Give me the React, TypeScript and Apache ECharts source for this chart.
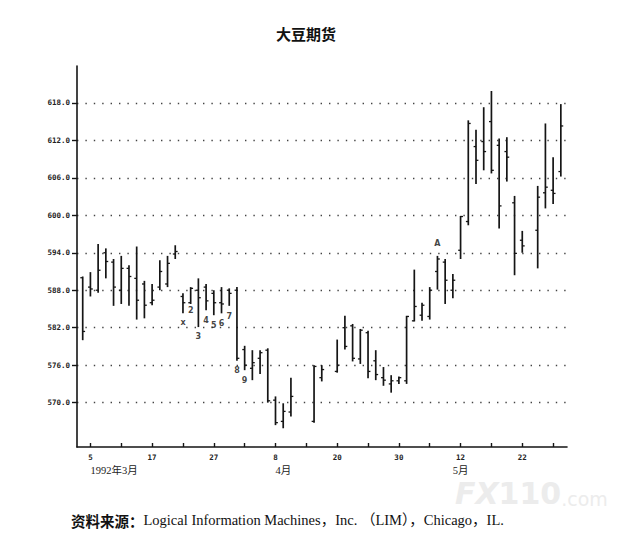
import React, { useEffect, useRef } from "react";
import * as echarts from "echarts";

// trading-day slot of each bar (gaps = no bar drawn)
const dayIndex = [
  0, 1, 2, 3, 4, 5, 6, 7, 8, 9, 10, 11, 12, 13, 14, 15, 16, 17, 18, 19, 20, 21, 22, 23, 24, 25, 26, 27,
  30, 31,
  33, 34, 35, 36, 37, 38, 39, 40, 41, 42, 43, 44, 45, 46, 47, 48, 49, 50, 51, 52, 53, 54, 55, 56, 57,
  59, 60, 61, 62,
];
const opens = [
  590.0, 588.5, 588.0, 594.0, 592.5, 588.0, 591.5, 589.9, 589.0, 586.0, 588.5, 589.0, 593.8, 587.0, 586.0,
  588.0, 588.5, 587.5, 586.0, 588.0, 588.0, 578.5, 575.5, 577.1, 578.4, 570.4, 567.0, 568.5,
  567.0, 574.0,
  575.0, 582.0, 582.3, 577.0, 581.2, 576.7, 574.0, 573.0, 573.5, 573.5, 583.1, 584.0, 583.8, 591.0, 592.5,
  588.0, 594.4, 599.0, 611.0, 611.8, 615.0, 611.2, 610.2, 602.0, 596.0,
  597.6, 603.6, 604.0, 607.0,
];
const highs = [
  590.2, 590.9, 595.4, 594.7, 593.0, 593.5, 592.0, 595.0, 589.5, 589.0, 592.8, 593.5, 595.2, 587.5, 588.5,
  589.9, 589.0, 588.0, 588.5, 588.3, 588.5, 579.1, 578.4, 578.4, 578.7, 571.0, 569.9, 574.0,
  576.0, 576.0,
  580.1, 583.9, 582.6, 581.8, 581.5, 578.4, 575.7, 574.4, 574.2, 583.9, 591.3, 586.0, 588.5, 593.5, 593.0,
  590.6, 599.9, 615.2, 613.7, 617.3, 619.9, 612.3, 612.5, 603.1, 597.5,
  604.7, 614.7, 609.3, 617.8,
];
const lows = [
  580.0, 587.0, 587.6, 589.9, 585.5, 585.8, 585.5, 583.3, 583.5, 585.6, 588.0, 588.5, 593.0, 584.3, 585.8,
  582.1, 584.8, 584.0, 584.3, 585.5, 576.7, 575.2, 573.6, 574.6, 570.0, 566.4, 565.9, 567.8,
  566.8, 573.4,
  574.8, 578.5, 576.6, 576.2, 573.9, 573.6, 572.7, 571.6, 573.0, 573.0, 583.0, 583.1, 583.3, 588.1, 585.8,
  586.7, 593.0, 598.4, 605.0, 607.2, 606.7, 597.9, 605.4, 590.4, 594.0,
  591.5, 601.1, 601.8, 606.2,
];
const closes = [
  581.4, 588.2, 591.2, 592.6, 588.5, 591.5, 590.2, 586.4, 585.6, 586.4, 591.0, 592.3, 594.2, 586.0, 588.3,
  586.8, 586.3, 586.0, 585.8, 587.5, 577.1, 576.0, 576.4, 578.0, 570.3, 566.8, 568.6, 571.0,
  575.8, 575.3,
  576.0, 579.0, 577.1, 581.6, 575.0, 574.5, 573.6, 573.5, 574.0, 583.8, 585.4, 585.6, 588.0, 593.0, 589.6,
  589.6, 599.8, 614.7, 608.8, 610.2, 607.2, 601.5, 609.3, 593.9, 595.1,
  602.9, 604.5, 603.5, 614.3,
];

const yTickValues = [570, 576, 582, 588, 594, 600, 606, 612, 618];
const xTickValues = [1, 5, 9, 13, 17, 21, 25, 29, 33, 37, 41, 45, 49, 53, 57, 61];
const xLabelAt = [1, 9, 17, 25, 33, 41, 49, 57];
const xLabels = ["5", "17", "27", "8", "20", "30", "12", "22"];
const monthAt = [1, 25, 48];
const monthLabels = ["1992年3月", "4月", "5月"];

const annotText = ["x", "2", "3", "4", "5", "6", "7", "8", "9", "A"];
const annotAt = [13, 14, 15, 16, 17, 18, 19, 20, 21, 46];
const annotPrice = [582.9, 584.7, 580.6, 583.1, 582.3, 582.7, 583.8, 575.1, 573.5, 595.5];

const X_MIN = -0.74;
const X_MAX = 62.8;

export default function App() {
  const ref = useRef<HTMLDivElement>(null);

  useEffect(() => {
    document.body.style.margin = "0";
    if (!ref.current) return;
    const chart = echarts.init(ref.current, undefined, { renderer: "svg" });

    const ohlc = dayIndex.map((d, i) => [d, opens[i], highs[i], lows[i], closes[i]]);
    const annots = annotText.map((t, i) => ({ value: [annotAt[i], annotPrice[i]], name: t }));

    const ink = "#151515";

    const option: any = {
      animation: false,
      backgroundColor: "#ffffff",
      grid: { left: 77, right: 68, top: 66, bottom: 94, containLabel: false, outerBoundsMode: "none" },
      xAxis: [
        {
          type: "value",
          min: X_MIN,
          max: X_MAX,
          position: "bottom",
          axisLine: { show: true, onZero: false, lineStyle: { color: ink, width: 1.6 } },
          axisTick: {
            show: true,
            inside: true,
            length: 4,
            customValues: xTickValues,
            lineStyle: { color: ink, width: 1.4 },
          },
          axisLabel: {
            customValues: xLabelAt,
            formatter: (v: number) => {
              const k = xLabelAt.indexOf(Math.round(v));
              return k >= 0 ? xLabels[k] : "";
            },
            margin: 6,
            color: "#222",
            fontFamily: "DejaVu Sans Mono",
            fontWeight: "bold",
            fontSize: 7.5,
          },
          splitLine: { show: false },
        },
        {
          type: "value",
          min: X_MIN,
          max: X_MAX,
          position: "bottom",
          axisLine: { show: false, onZero: false },
          axisTick: { show: false },
          splitLine: { show: false },
          axisLabel: {
            customValues: monthAt,
            formatter: (v: number) => {
              const k = monthAt.indexOf(Math.round(v));
              return k >= 0 ? monthLabels[k] : "";
            },
            align: "left",
            margin: 18,
            color: "#222",
            fontFamily: "'Liberation Serif', 'Noto Sans CJK SC', serif",
            fontSize: 10.5,
          },
        },
      ],
      yAxis: {
        type: "value",
        min: 562.9,
        max: 623.9,
        axisLine: { show: true, onZero: false, lineStyle: { color: ink, width: 1.6 } },
        axisTick: {
          show: true,
          length: 5,
          customValues: yTickValues,
          lineStyle: { color: ink, width: 1.4 },
        },
        axisLabel: {
          customValues: yTickValues,
          formatter: (v: number) => v.toFixed(1),
          margin: 7,
          color: "#222",
          fontFamily: "DejaVu Sans Mono",
          fontWeight: "bold",
          fontSize: 7.5,
        },
        splitLine: {
          show: true,
          lineStyle: { color: "#444", width: 1.3, type: [1.4, 7] },
        },
      },
      series: [
        {
          type: "custom",
          xAxisIndex: 0,
          yAxisIndex: 0,
          data: ohlc,
          encode: { x: 0, y: [1, 2, 3, 4] },
          renderItem: (_params: any, api: any) => {
            const x = api.value(0);
            const o = api.coord([x, api.value(1)]);
            const h = api.coord([x, api.value(2)]);
            const l = api.coord([x, api.value(3)]);
            const c = api.coord([x, api.value(4)]);
            const w = 2.4;
            const st = { stroke: ink, lineWidth: 1.7 };
            const tk = { stroke: ink, lineWidth: 1.3 };
            return {
              type: "group",
              children: [
                { type: "line", shape: { x1: h[0], y1: h[1], x2: l[0], y2: l[1] }, style: st },
                { type: "line", shape: { x1: o[0] - w, y1: o[1], x2: o[0], y2: o[1] }, style: tk },
                { type: "line", shape: { x1: c[0], y1: c[1], x2: c[0] + w, y2: c[1] }, style: tk },
              ],
            };
          },
          z: 5,
        },
        {
          type: "scatter",
          xAxisIndex: 0,
          yAxisIndex: 0,
          data: annots,
          symbolSize: 1,
          itemStyle: { color: "rgba(0,0,0,0)" },
          label: {
            show: true,
            position: "inside",
            formatter: (p: any) => p.name,
            color: "#111",
            fontFamily: "'DejaVu Sans', sans-serif",
            fontWeight: "bold",
            fontSize: 8,
          },
          z: 6,
        },
      ],
      graphic: [
        {
          type: "text",
          left: 276,
          top: 26,
          style: {
            text: "大豆期货",
            fontFamily: "'Noto Sans CJK SC', sans-serif",
            fontWeight: "bold",
            fontSize: 15,
            fill: "#111",
          },
        },
        {
          type: "text",
          left: 455,
          top: 478,
          z: 0,
          style: {
            text: "{a|FX}{b|110}{c|.com}",
            rich: {
              a: { fontFamily: "'DejaVu Sans', sans-serif", fontWeight: "bold", fontStyle: "italic", fontSize: 30, fill: "#ececec" },
              b: { fontFamily: "'DejaVu Sans', sans-serif", fontWeight: "bold", fontSize: 30, fill: "#ececec" },
              c: { fontFamily: "'DejaVu Sans', sans-serif", fontSize: 19, fill: "#ececec", verticalAlign: "bottom" },
            },
          },
        },
        {
          type: "text",
          left: 71,
          top: 513,
          style: {
            text: "{a|资料来源：}{b|Logical Information Machines，Inc. （LIM），Chicago，IL.}",
            rich: {
              a: { fontFamily: "'Noto Sans CJK SC', sans-serif", fontWeight: "bold", fontSize: 14.5, fill: "#111" },
              b: { fontFamily: "'Liberation Serif', 'Noto Sans CJK SC', serif", fontSize: 14.5, fill: "#111" },
            },
          },
        },
      ],
    };

    chart.setOption(option);
    return () => chart.dispose();
  }, []);

  return <div ref={ref} style={{ width: 635, height: 541 }} />;
}
